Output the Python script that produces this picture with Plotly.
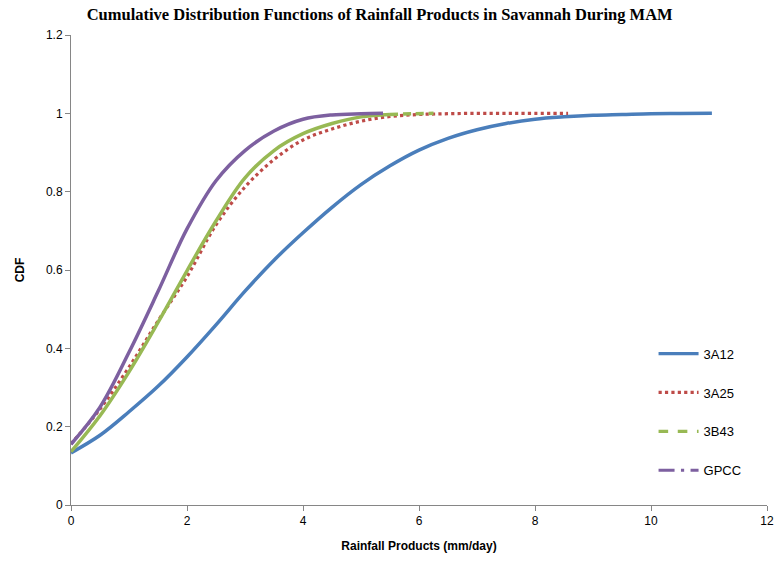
import plotly.graph_objects as go

# 3A12
x_3a12 = [0, 0.5, 1, 1.5, 2, 2.5, 3, 3.5, 4, 4.5, 5, 5.5, 6, 6.5, 7, 7.5, 8, 8.5, 9, 9.5, 10, 10.5, 11.05]
y_3a12 = [0.133, 0.178, 0.238, 0.303, 0.378, 0.46, 0.546, 0.625, 0.695, 0.76, 0.818, 0.866, 0.906, 0.936, 0.958, 0.974, 0.985, 0.991, 0.995, 0.997, 0.999, 0.9995, 1.0]
# 3A25
x_3a25 = [0, 0.5, 1, 1.5, 2, 2.5, 3, 3.5, 4, 4.5, 5, 5.5, 6, 6.5, 7, 7.5, 8, 8.57]
y_3a25 = [0.156, 0.245, 0.352, 0.47, 0.583, 0.715, 0.812, 0.882, 0.932, 0.96, 0.98, 0.992, 0.997, 0.999, 1.0, 1.0, 1.0, 1.0]
# 3B43
x_3b43 = [0, 0.5, 1, 1.5, 2, 2.5, 3, 3.5, 4, 4.5, 5, 5.5, 5.9, 6.25]
y_3b43 = [0.136, 0.228, 0.34, 0.466, 0.598, 0.725, 0.835, 0.905, 0.948, 0.974, 0.991, 0.997, 0.999, 1.0]
# GPCC
x_gpcc = [0, 0.5, 1, 1.5, 2, 2.5, 3, 3.5, 4, 4.5, 5, 5.38]
y_gpcc = [0.155, 0.25, 0.39, 0.545, 0.705, 0.828, 0.905, 0.955, 0.985, 0.996, 0.999, 1.0]

names = ["3A12", "3A25", "3B43", "GPCC"]
colors = ["#4A7EBB", "#BE4B48", "#98B954", "#7D60A0"]

fig = go.Figure()

# plotted curves (appearance as in chart body)
fig.add_trace(go.Scatter(x=x_3a12, y=y_3a12, mode="lines", line=dict(color=colors[0], width=3.5, shape="spline"), showlegend=False))
fig.add_trace(go.Scatter(x=x_3a25, y=y_3a25, mode="lines", line=dict(color=colors[1], width=3.2, shape="spline", dash="dot"), showlegend=False))
n_solid = 12
fig.add_trace(go.Scatter(x=x_3b43[:n_solid], y=y_3b43[:n_solid], mode="lines", line=dict(color=colors[2], width=3.5, shape="spline"), showlegend=False))
fig.add_trace(go.Scatter(x=x_3b43[n_solid - 1:], y=y_3b43[n_solid - 1:], mode="lines", line=dict(color=colors[2], width=3.5, shape="spline", dash="8px,5px"), showlegend=False))
fig.add_trace(go.Scatter(x=x_gpcc, y=y_gpcc, mode="lines", line=dict(color=colors[3], width=3.5, shape="spline"), showlegend=False))

# legend entries
dashes = ["solid", "dot", "dash", "longdashdot"]
for i, (nm, c, d) in enumerate(zip(names, colors, dashes)):
    fig.add_trace(go.Scatter(x=[None], y=[None], mode="lines", name=nm, legendgroup=nm,
                             line=dict(color=c, width=3.2, dash=d)))

axis_common = dict(showline=True, linecolor="#868686", linewidth=1, ticks="outside",
                   tickcolor="#868686", ticklen=5, showgrid=False, zeroline=False,
                   tickfont=dict(family="Liberation Sans, Arial", size=12, color="black"))

fig.update_layout(
    width=778, height=561,
    margin=dict(l=71, r=11, t=35, b=56, autoexpand=False),
    paper_bgcolor="white", plot_bgcolor="white",
    title=dict(text="<b>Cumulative Distribution Functions of Rainfall Products in Savannah During MAM</b>",
               font=dict(family="Liberation Serif, Times New Roman", size=16.5, color="black"),
               x=0.488, xanchor="center", xref="container", y=0.975, yanchor="middle", yref="container"),
    xaxis=dict(range=[0, 12], dtick=2, tick0=0,
               title=dict(text="<b>Rainfall Products (mm/day)</b>", standoff=14,
                          font=dict(family="Liberation Sans, Arial", size=12, color="black")),
               **axis_common),
    yaxis=dict(range=[0, 1.2], dtick=0.2, tick0=0,
               title=dict(text="<b>CDF</b>", standoff=18,
                          font=dict(family="Liberation Sans, Arial", size=12, color="black")),
               **axis_common),
    legend=dict(x=0.837, y=0.354, xanchor="left", yanchor="top", bgcolor="rgba(0,0,0,0)",
                font=dict(family="Liberation Sans, Arial", size=13, color="black"),
                tracegroupgap=19, itemwidth=40),
)

fig.write_html("out.html")
